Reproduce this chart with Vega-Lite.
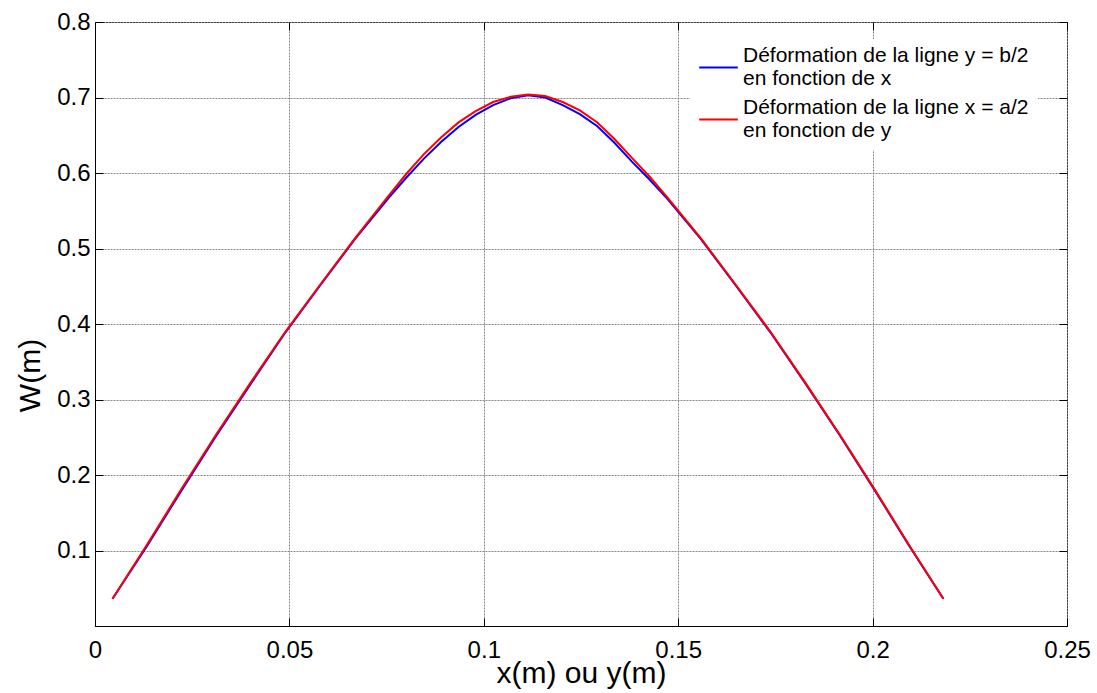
{
  "$schema": "https://vega.github.io/schema/vega-lite/v6.json",
  "width": 972,
  "height": 604,
  "autosize": "none",
  "padding": {"left": 95, "top": 22, "right": 30, "bottom": 67},
  "background": "white",
  "config": {
    "font": "Liberation Sans",
    "view": {"stroke": "black", "strokeWidth": 1},
    "axis": {
      "domainColor": "black",
      "tickColor": "black",
      "labelColor": "black",
      "titleColor": "black",
      "labelFont": "Liberation Sans",
      "titleFont": "Liberation Sans",
      "labelFontSize": 24,
      "titleFontSize": 30,
      "titleFontWeight": "normal",
      "gridColor": "#888888",
      "gridDash": [2, 1],
      "gridOpacity": 1,
      "tickSize": -8
    }
  },
  "data": {
    "values": [
      {"serie": "Déformation de la ligne y = b/2|en fonction de x", "x": 0.0045, "w": 0.036},
      {"serie": "Déformation de la ligne y = b/2|en fonction de x", "x": 0.0134, "w": 0.106},
      {"serie": "Déformation de la ligne y = b/2|en fonction de x", "x": 0.0223, "w": 0.180},
      {"serie": "Déformation de la ligne y = b/2|en fonction de x", "x": 0.0312, "w": 0.252},
      {"serie": "Déformation de la ligne y = b/2|en fonction de x", "x": 0.0401, "w": 0.321},
      {"serie": "Déformation de la ligne y = b/2|en fonction de x", "x": 0.0490, "w": 0.389},
      {"serie": "Déformation de la ligne y = b/2|en fonction de x", "x": 0.0579, "w": 0.451},
      {"serie": "Déformation de la ligne y = b/2|en fonction de x", "x": 0.0668, "w": 0.512},
      {"serie": "Déformation de la ligne y = b/2|en fonction de x", "x": 0.0757, "w": 0.568},
      {"serie": "Déformation de la ligne y = b/2|en fonction de x", "x": 0.0801, "w": 0.594},
      {"serie": "Déformation de la ligne y = b/2|en fonction de x", "x": 0.0846, "w": 0.619},
      {"serie": "Déformation de la ligne y = b/2|en fonction de x", "x": 0.0890, "w": 0.641},
      {"serie": "Déformation de la ligne y = b/2|en fonction de x", "x": 0.0935, "w": 0.661},
      {"serie": "Déformation de la ligne y = b/2|en fonction de x", "x": 0.0979, "w": 0.677},
      {"serie": "Déformation de la ligne y = b/2|en fonction de x", "x": 0.1024, "w": 0.690},
      {"serie": "Déformation de la ligne y = b/2|en fonction de x", "x": 0.1069, "w": 0.699},
      {"serie": "Déformation de la ligne y = b/2|en fonction de x", "x": 0.1114, "w": 0.703},
      {"serie": "Déformation de la ligne y = b/2|en fonction de x", "x": 0.1158, "w": 0.700},
      {"serie": "Déformation de la ligne y = b/2|en fonction de x", "x": 0.1203, "w": 0.690},
      {"serie": "Déformation de la ligne y = b/2|en fonction de x", "x": 0.1247, "w": 0.678},
      {"serie": "Déformation de la ligne y = b/2|en fonction de x", "x": 0.1292, "w": 0.662},
      {"serie": "Déformation de la ligne y = b/2|en fonction de x", "x": 0.1336, "w": 0.640},
      {"serie": "Déformation de la ligne y = b/2|en fonction de x", "x": 0.1381, "w": 0.615},
      {"serie": "Déformation de la ligne y = b/2|en fonction de x", "x": 0.1425, "w": 0.592},
      {"serie": "Déformation de la ligne y = b/2|en fonction de x", "x": 0.1470, "w": 0.567},
      {"serie": "Déformation de la ligne y = b/2|en fonction de x", "x": 0.1559, "w": 0.512},
      {"serie": "Déformation de la ligne y = b/2|en fonction de x", "x": 0.1648, "w": 0.451},
      {"serie": "Déformation de la ligne y = b/2|en fonction de x", "x": 0.1737, "w": 0.389},
      {"serie": "Déformation de la ligne y = b/2|en fonction de x", "x": 0.1826, "w": 0.322},
      {"serie": "Déformation de la ligne y = b/2|en fonction de x", "x": 0.1915, "w": 0.253},
      {"serie": "Déformation de la ligne y = b/2|en fonction de x", "x": 0.2004, "w": 0.181},
      {"serie": "Déformation de la ligne y = b/2|en fonction de x", "x": 0.2093, "w": 0.107},
      {"serie": "Déformation de la ligne y = b/2|en fonction de x", "x": 0.2182, "w": 0.036},
      {"serie": "Déformation de la ligne x = a/2|en fonction de y", "x": 0.0045, "w": 0.036},
      {"serie": "Déformation de la ligne x = a/2|en fonction de y", "x": 0.0134, "w": 0.108},
      {"serie": "Déformation de la ligne x = a/2|en fonction de y", "x": 0.0223, "w": 0.182},
      {"serie": "Déformation de la ligne x = a/2|en fonction de y", "x": 0.0312, "w": 0.254},
      {"serie": "Déformation de la ligne x = a/2|en fonction de y", "x": 0.0401, "w": 0.323},
      {"serie": "Déformation de la ligne x = a/2|en fonction de y", "x": 0.0490, "w": 0.390},
      {"serie": "Déformation de la ligne x = a/2|en fonction de y", "x": 0.0579, "w": 0.452},
      {"serie": "Déformation de la ligne x = a/2|en fonction de y", "x": 0.0668, "w": 0.513},
      {"serie": "Déformation de la ligne x = a/2|en fonction de y", "x": 0.0757, "w": 0.571},
      {"serie": "Déformation de la ligne x = a/2|en fonction de y", "x": 0.0801, "w": 0.599},
      {"serie": "Déformation de la ligne x = a/2|en fonction de y", "x": 0.0846, "w": 0.625},
      {"serie": "Déformation de la ligne x = a/2|en fonction de y", "x": 0.0890, "w": 0.647},
      {"serie": "Déformation de la ligne x = a/2|en fonction de y", "x": 0.0935, "w": 0.667},
      {"serie": "Déformation de la ligne x = a/2|en fonction de y", "x": 0.0979, "w": 0.682},
      {"serie": "Déformation de la ligne x = a/2|en fonction de y", "x": 0.1024, "w": 0.694},
      {"serie": "Déformation de la ligne x = a/2|en fonction de y", "x": 0.1069, "w": 0.701},
      {"serie": "Déformation de la ligne x = a/2|en fonction de y", "x": 0.1114, "w": 0.704},
      {"serie": "Déformation de la ligne x = a/2|en fonction de y", "x": 0.1158, "w": 0.702},
      {"serie": "Déformation de la ligne x = a/2|en fonction de y", "x": 0.1203, "w": 0.694},
      {"serie": "Déformation de la ligne x = a/2|en fonction de y", "x": 0.1247, "w": 0.683},
      {"serie": "Déformation de la ligne x = a/2|en fonction de y", "x": 0.1292, "w": 0.667},
      {"serie": "Déformation de la ligne x = a/2|en fonction de y", "x": 0.1336, "w": 0.645},
      {"serie": "Déformation de la ligne x = a/2|en fonction de y", "x": 0.1381, "w": 0.620},
      {"serie": "Déformation de la ligne x = a/2|en fonction de y", "x": 0.1425, "w": 0.596},
      {"serie": "Déformation de la ligne x = a/2|en fonction de y", "x": 0.1470, "w": 0.569},
      {"serie": "Déformation de la ligne x = a/2|en fonction de y", "x": 0.1559, "w": 0.513},
      {"serie": "Déformation de la ligne x = a/2|en fonction de y", "x": 0.1648, "w": 0.452},
      {"serie": "Déformation de la ligne x = a/2|en fonction de y", "x": 0.1737, "w": 0.390},
      {"serie": "Déformation de la ligne x = a/2|en fonction de y", "x": 0.1826, "w": 0.323},
      {"serie": "Déformation de la ligne x = a/2|en fonction de y", "x": 0.1915, "w": 0.254},
      {"serie": "Déformation de la ligne x = a/2|en fonction de y", "x": 0.2004, "w": 0.182},
      {"serie": "Déformation de la ligne x = a/2|en fonction de y", "x": 0.2093, "w": 0.108},
      {"serie": "Déformation de la ligne x = a/2|en fonction de y", "x": 0.2182, "w": 0.036}
    ]
  },
  "layer": [
    {
      "mark": {"type": "line", "strokeWidth": 2, "clip": true},
      "encoding": {
        "x": {
          "field": "x", "type": "quantitative",
          "scale": {"domain": [0, 0.25], "nice": false, "zero": false},
          "axis": {
            "orient": "bottom", "values": [0, 0.05, 0.1, 0.15, 0.2, 0.25], "format": "~g",
            "title": "x(m) ou y(m)", "grid": true, "labelPadding": 20,
            "titleY": 56, "titleBaseline": "alphabetic", "labelFlush": false
          }
        },
        "y": {
          "field": "w", "type": "quantitative",
          "scale": {"domain": [0, 0.8], "nice": false, "zero": false},
          "axis": {
            "orient": "left", "values": [0.1, 0.2, 0.3, 0.4, 0.5, 0.6, 0.7, 0.8], "format": "~g",
            "title": "W(m)", "grid": true, "labelPadding": 13,
            "titleX": -65, "titleY": 353, "titleBaseline": "middle", "titleAlign": "center", "titleAngle": -90
          }
        },
        "color": {
          "field": "serie", "type": "nominal",
          "scale": {
            "domain": ["Déformation de la ligne y = b/2|en fonction de x", "Déformation de la ligne x = a/2|en fonction de y"],
            "range": ["#0000ff", "#ff0000"]
          },
          "legend": {
            "title": null,
            "orient": "none",
            "legendX": 595,
            "legendY": 17,
            "fillColor": "white",
            "strokeColor": "white",
            "padding": 8,
            "symbolType": "stroke",
            "symbolSize": 1490,
            "symbolStrokeWidth": 2,
            "labelOffset": 4,
            "labelFont": "Liberation Sans",
            "labelFontSize": 21,
            "labelLineHeight": 23.5,
            "labelColor": "black",
            "labelLimit": 400,
            "rowPadding": 8,
            "labelExpr": "split(datum.label, '|')",
            "encode": {"labels": {"update": {"dy": {"value": -11.5}}}}
          }
        }
      }
    },
    {
      "mark": {"type": "line", "opacity": 0},
      "encoding": {
        "x": {
          "field": "x", "type": "quantitative",
          "axis": {"orient": "top", "values": [0, 0.05, 0.1, 0.15, 0.2, 0.25], "labels": false, "title": null, "grid": false, "domain": false}
        },
        "y": {
          "field": "w", "type": "quantitative",
          "axis": {"orient": "right", "values": [0.1, 0.2, 0.3, 0.4, 0.5, 0.6, 0.7, 0.8], "labels": false, "title": null, "grid": false, "domain": false}
        }
      }
    }
  ],
  "resolve": {"axis": {"x": "independent", "y": "independent"}}
}
